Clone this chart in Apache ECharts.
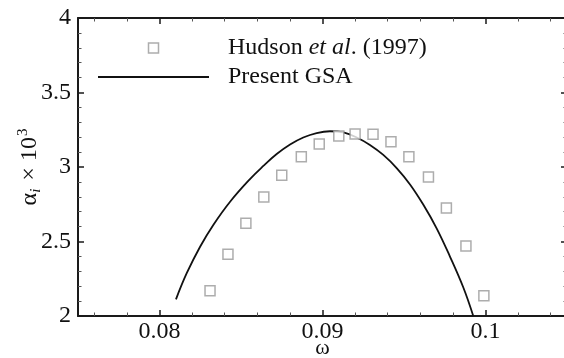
<!DOCTYPE html>
<html>
<head>
<meta charset="utf-8">
<style>
  html, body { margin: 0; padding: 0; background: #fff; }
  #chart { width: 564px; height: 358px; }
</style>
<script src="https://cdn.jsdelivr.net/npm/echarts@6/dist/echarts.min.js"></script>
</head>
<body>
<div id="chart"></div>
<script>
// Hudson et al. (1997) experimental points
const hudsonOmega = [0.0831, 0.0842, 0.0853, 0.0864, 0.0875, 0.0887, 0.0898, 0.0910,
                     0.0920, 0.0931, 0.0942, 0.0953, 0.0965, 0.0976, 0.0988, 0.0999];
const hudsonAlpha = [2.170, 2.414, 2.622, 2.799, 2.944, 3.069, 3.154, 3.208,
                     3.221, 3.219, 3.170, 3.069, 2.933, 2.725, 2.470, 2.136];

// Present GSA curve
const gsaOmega = [0.08101, 0.08167, 0.08249, 0.08330, 0.08433, 0.08555, 0.08637, 0.08719,
                  0.08801, 0.08882, 0.08964, 0.09046, 0.09128, 0.09210, 0.09291, 0.09373,
                  0.09455, 0.09537, 0.09618, 0.09701, 0.09782, 0.09864, 0.09925];
const gsaAlpha = [2.112, 2.287, 2.465, 2.611, 2.767, 2.919, 3.007, 3.087,
                  3.151, 3.198, 3.228, 3.240, 3.232, 3.198, 3.148, 3.081,
                  2.993, 2.883, 2.748, 2.587, 2.399, 2.191, 2.000];

const seriesNames = ['Hudson et al. (1997)', 'Present GSA'];
const xRange = [0.075, 0.105];
const yRange = [2, 4];

const FONT = '"Liberation Serif", "Times New Roman", serif';
const AXIS_COLOR = '#1a1a1a';

const hudsonData = hudsonOmega.map((w, i) => [w, hudsonAlpha[i]]);
const gsaData = gsaOmega.map((w, i) => [w, gsaAlpha[i]]);

// legend icon: an open square centred in a 111 x 11 box
const squareIcon = 'path://M0,0M111,11M50.5,0.5h10v10h-10z';

function xAxisCfg(pos, showLabels) {
  return {
    type: 'value',
    position: pos,
    min: xRange[0], max: xRange[1],
    minInterval: 0.01, maxInterval: 0.01, splitNumber: 3,
    axisLine: { show: true, onZero: false, lineStyle: { color: AXIS_COLOR, width: 2 } },
    axisTick: { show: true, inside: true, length: 6, lineStyle: { color: AXIS_COLOR, width: 1.5 } },
    minorTick: { show: true, splitNumber: 5, length: 3.5, lineStyle: { color: '#555', width: 1 } },
    splitLine: { show: false },
    axisLabel: {
      show: showLabels, showMinLabel: false, showMaxLabel: false,
      margin: 4, fontFamily: FONT, fontSize: 24, color: '#111',
      formatter: v => String(+v.toFixed(3))
    },
    name: showLabels ? 'ω' : '',
    nameLocation: 'middle', nameGap: 21, nameMoveOverlap: false,
    nameTextStyle: { fontFamily: FONT, fontSize: 22, color: '#111' }
  };
}
function yAxisCfg(pos, showLabels) {
  return {
    type: 'value',
    position: pos,
    min: yRange[0], max: yRange[1], interval: 0.5,
    axisLine: { show: true, onZero: false, lineStyle: { color: AXIS_COLOR, width: 2 } },
    axisTick: { show: true, inside: true, length: 6, lineStyle: { color: AXIS_COLOR, width: 1.5 } },
    minorTick: { show: true, splitNumber: 5, length: 3.5, lineStyle: { color: '#555', width: 1 } },
    splitLine: { show: false },
    axisLabel: { show: showLabels, margin: 7, fontFamily: FONT, fontSize: 24, color: '#111' },
    name: showLabels ? '{a|α}{s|i}{a| × 10}{p|3}' : '',
    nameLocation: 'middle', nameGap: 34, nameRotate: 90, nameMoveOverlap: false,
    nameTextStyle: {
      fontFamily: FONT, fontSize: 24, color: '#111',
      rich: {
        a: { fontFamily: FONT, fontSize: 24, color: '#111', lineHeight: 28 },
        s: { fontFamily: FONT, fontSize: 15, fontStyle: 'italic', color: '#111', verticalAlign: 'bottom', lineHeight: 28, padding: [0, 2, 0, 0] },
        p: { fontFamily: FONT, fontSize: 15, color: '#111', verticalAlign: 'top', lineHeight: 28, padding: [0, 0, 0, 1] }
      }
    }
  };
}

const chart = echarts.init(document.getElementById('chart'), null, { renderer: 'canvas' });
chart.setOption({
  animation: false,
  backgroundColor: '#fff',
  grid: { left: 78, top: 18, width: 489, height: 298, outerBoundsMode: 'none', containLabel: false },
  xAxis: [xAxisCfg('bottom', true), xAxisCfg('top', false)],
  yAxis: [yAxisCfg('left', true), yAxisCfg('right', false)],
  legend: {
    show: true,
    orient: 'vertical',
    left: 97, top: 35,
    padding: 0,
    itemGap: 3,
    itemWidth: 111, itemHeight: 11,
    selectedMode: false,
    data: [
      { name: seriesNames[0], icon: squareIcon,
        itemStyle: { color: '#fff', borderColor: '#999', borderWidth: 1.5 } },
      { name: seriesNames[1], itemStyle: { color: 'rgba(0,0,0,0)', borderWidth: 0, opacity: 0 },
        lineStyle: { color: '#111', width: 2 } }
    ],
    formatter: name => name === seriesNames[0] ? 'Hudson {i|et al}. (1997)' : name,
    textStyle: {
      fontFamily: FONT, fontSize: 24, color: '#111', lineHeight: 26,
      padding: [0, 0, 0, 14],
      rich: {
        i: { fontFamily: FONT, fontSize: 24, fontStyle: 'italic', color: '#111', lineHeight: 26 }
      }
    }
  },
  series: [
    {
      name: seriesNames[0],
      type: 'scatter',
      xAxisIndex: 0, yAxisIndex: 0,
      symbol: 'rect',
      symbolSize: 10,
      itemStyle: { color: '#fff', borderColor: '#999', borderWidth: 1.5 },
      data: hudsonData,
      z: 3
    },
    {
      name: seriesNames[1],
      type: 'line',
      xAxisIndex: 0, yAxisIndex: 0,
      smooth: 0.4,
      symbol: 'none',
      lineStyle: { color: '#111', width: 1.8 },
      itemStyle: { color: '#111' },
      data: gsaData,
      z: 2
    }
  ]
});
</script>
</body>
</html>
